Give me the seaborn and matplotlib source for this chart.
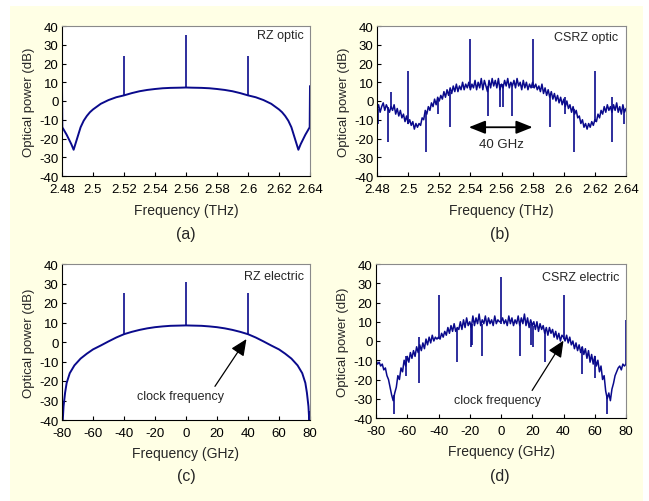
import numpy as np
import seaborn as sns
import matplotlib.pyplot as plt

# ---- panel (a): RZ optic, smooth spectrum ----
freq_a = [2.4800, 2.4802, 2.4830, 2.4860, 2.4875, 2.4890, 2.4905, 2.4920, 2.4940,
          2.4960, 2.4980, 2.5000, 2.5050, 2.5100, 2.5150, 2.5200, 2.5250, 2.5300,
          2.5350, 2.5400, 2.5450, 2.5500, 2.5560, 2.5600, 2.5640, 2.5700, 2.5750,
          2.5800, 2.5850, 2.5900, 2.5950, 2.6000, 2.6050, 2.6100, 2.6150, 2.6200,
          2.6220, 2.6240, 2.6260, 2.6280, 2.6295, 2.6310, 2.6325, 2.6340, 2.6370,
          2.6398, 2.6400]
pow_a = [8, -14, -18, -23, -26, -22, -18, -14, -10.5,
         -8, -6, -4.5, -1.5, 0.5, 2, 3, 4.2, 5.2,
         5.9, 6.4, 6.8, 7, 7.1, 7.2, 7.1, 7, 6.8,
         6.4, 5.9, 5.2, 4.2, 3, 2, 0.5, -1.5, -4.5,
         -6, -8, -10.5, -14, -18, -22, -26, -23, -18,
         -14, 8]
spike_f_a = [2.520, 2.560, 2.600]
spike_lo_a = [3, 7, 3]
spike_hi_a = [24, 35, 24]

# ---- panel (b): CSRZ optic, one reading per GHz from 2.480 to 2.640 THz ----
pow_b = [-5, -2, -6, -3, -1, -5, -2, -4, -6, -3,
         -5, -2, -7, -4, -8, -5, -9, -7, -11, -8,
         -12, -10, -13, -11, -15, -12, -14, -12, -13, -9,
         -10, -5, -7, -3, -5, -1, -3, 1, -2, 2,
         0, 3, 1, 5, 2, 6, 3, 7, 4, 8,
         5, 9, 5, 8, 6, 10, 6, 9, 7, 10,
         6, 9, 7, 11, 6, 10, 7, 12, 6, 11,
         8, 5, 11, 7, 12, 8, 11, 7, 12, 6,
         9,
         7, 11, 8, 12, 7, 10, 8, 11, 7, 12,
         8, 10, 6, 11, 7, 10, 6, 9, 7, 10,
         7, 9, 6, 8, 5, 9, 4, 7, 3, 6,
         2, 5, 1, 4, 0, 3, -1, 2, -2, 1,
         -3, 0, -4, -2, -6, -3, -7, -5, -9, -8,
         -12, -10, -14, -12, -15, -12, -14, -11, -13, -10,
         -11, -7, -9, -5, -7, -3, -6, -2, -5, -3,
         -6, -2, -5, -1, -6, -3, -7, -2, -6, -4]
spike_f_b = [2.4805, 2.4873, 2.4890, 2.5000, 2.5113, 2.5195, 2.5270, 2.5400, 2.5515,
             2.5590, 2.5610, 2.5670, 2.5800, 2.5910, 2.6005, 2.6066, 2.6200, 2.6310,
             2.6385]
spike_lo_b = [-12, -22, -3, -12, -27, -7, -14, 7, -8,
              -3, -3, -8, 7, -14, -7, -27, -11, -22,
              -12]
spike_hi_b = [-4, -3, 5, 16, -6, 1, 5, 33, 8,
              9, 9, 9, 33, 3, 2, -4, 16, 2,
              -4]

# ---- panel (c): RZ electric, smooth ----
freq_c = [-80, -79.5, -79, -78, -77, -75, -72, -68, -64, -60, -55, -50, -45, -40,
          -35, -30, -25, -20, -15, -10, -5, 0, 5, 10, 15, 20, 25, 30, 35, 40,
          45, 50, 55, 60, 64, 68, 72, 75, 77, 78, 79, 79.5, 79.8, 80]
pow_c = [-42, -40, -33, -26, -21, -16, -12, -8.5, -6, -3.8, -1.8, 0.3, 2.3, 4,
         5.2, 6.2, 7, 7.6, 8, 8.3, 8.4, 8.5, 8.4, 8.3, 8, 7.6, 7, 6.2, 5.2, 4,
         2.3, 0.3, -1.8, -3.8, -6, -8.5, -12, -16, -21, -26, -33, -40, -42, -36]
spike_f_c = [-40, 0, 40]
spike_lo_c = [4, 8.5, 4]
spike_hi_c = [25, 31, 25]

# ---- panel (d): CSRZ electric, one reading per GHz from -80 to 80 ----
pow_d = [-10, -12, -11, -13, -12, -15, -14, -18, -20, -24,
         -28, -31, -27, -24, -18, -20, -14, -16, -10, -13,
         -8, -11, -6, -9, -5, -8, -3, -6, -2, -5,
         -1, -4, 1, -2, 2, -1, 3, 0, 2, 1,
         2, 1, 4, 2, 5, 3, 7, 4, 8, 5,
         9, 5, 7, 6, 10, 6, 11, 7, 12, 8,
         10, 7, 13, 8, 12, 9, 14, 8, 11, 9,
         13, 8, 12, 9, 11, 8, 13, 9, 11, 10,
         10,
         12, 9, 11, 8, 13, 9, 12, 8, 11, 9,
         13, 8, 12, 9, 14, 8, 12, 7, 11, 8,
         10, 6, 10, 5, 9, 6, 8, 4, 7, 3,
         7, 4, 6, 2, 5, 1, 4, 0, 3, 2,
         0, 3, -1, 2, -2, 0, -4, -1, -5, -2,
         -6, -3, -7, -4, -9, -5, -11, -7, -12, -8,
         -13, -10, -16, -13, -20, -18, -26, -30, -27, -31,
         -25, -22, -18, -16, -14, -13, -15, -12, -13, -12]
spike_f_d = [-68.5, -60.5, -52.5, -40, -28, -19.5, -18.5, -12, 0,
             12, 19, 20.5, 28, 40, 52, 60, 68, 80]
spike_lo_d = [-38, -18, -22, 1, -11, -3, -2, -8, 9,
              -8, -2, -3, -11, 1, -17, -19, -38, -12]
spike_hi_d = [-28, -8, 2, 24, 6, 9, 9, 9, 33,
              9, 9, 8, 5, 24, -3, -8, -28, 11]

freq_b = np.round(2.480 + 0.001 * np.arange(len(pow_b)), 4)
freq_d = np.arange(len(pow_d)) - 80

line_col = '#0A0A8C'
cream = '#FFFFE5'

sns.set_style('white')
plt.rcParams['font.family'] = ['Liberation Sans', 'DejaVu Sans']
plt.rcParams['axes.unicode_minus'] = False

fig = plt.figure(figsize=(6.49, 5.02), dpi=100)
fig.patch.set_facecolor('white')

# cream panel behind everything
bg = fig.add_axes([10 / 649, 0, 633 / 649, 495 / 502], zorder=-10)
bg.set_facecolor(cream)
bg.set_xticks([])
bg.set_yticks([])
for s in bg.spines.values():
    s.set_visible(False)

boxes = {
    'a': [62 / 649, 1 - 177 / 502, 248 / 649, 150 / 502],
    'b': [377 / 649, 1 - 177 / 502, 249 / 649, 150 / 502],
    'c': [62 / 649, 1 - 421 / 502, 248 / 649, 156 / 502],
    'd': [376 / 649, 1 - 419 / 502, 250 / 649, 154 / 502],
}
axes = {k: fig.add_axes(v) for k, v in boxes.items()}


def style_axis(ax, optic):
    ax.set_facecolor('white')
    for s in ['left', 'bottom']:
        ax.spines[s].set_color('black')
        ax.spines[s].set_linewidth(0.8)
    for s in ['top', 'right']:
        ax.spines[s].set_color('#8A8A8A')
        ax.spines[s].set_linewidth(0.8)
    ax.set_ylim(-40, 40)
    ax.set_yticks(range(-40, 41, 10))
    if optic:
        ax.set_xlim(2.48, 2.64)
        ticks = [2.48, 2.50, 2.52, 2.54, 2.56, 2.58, 2.60, 2.62, 2.64]
        ax.set_xticks(ticks)
        ax.set_xticklabels(['%g' % t for t in ticks])
        ax.set_xlabel('Frequency (THz)', fontsize=10, labelpad=6)
    else:
        ax.set_xlim(-80, 80)
        ax.set_xticks(range(-80, 81, 20))
        ax.set_xlabel('Frequency (GHz)', fontsize=10, labelpad=5)
    ax.set_ylabel('Optical power (dB)', fontsize=9.5, labelpad=3)
    ax.tick_params(axis='both', direction='in', length=3, width=0.8,
                   labelsize=9.5, colors='black')
    ax.tick_params(axis='x', bottom=True, top=False, pad=5)
    ax.tick_params(axis='y', left=True, right=False, pad=2.5)


def draw(ax, x, y, sf, slo, shi, lw):
    sns.lineplot(x=x, y=y, ax=ax, color=line_col, lw=lw, estimator=None, sort=False)
    ax.vlines(sf, slo, shi, color=line_col, lw=1.2)


draw(axes['a'], freq_a, pow_a, spike_f_a, spike_lo_a, spike_hi_a, 1.4)
draw(axes['b'], freq_b, pow_b, spike_f_b, spike_lo_b, spike_hi_b, 1.1)
draw(axes['c'], freq_c, pow_c, spike_f_c, spike_lo_c, spike_hi_c, 1.4)
draw(axes['d'], freq_d, pow_d, spike_f_d, spike_lo_d, spike_hi_d, 1.1)

style_axis(axes['a'], True)
style_axis(axes['b'], True)
style_axis(axes['c'], False)
style_axis(axes['d'], False)

# in-plot labels
axes['a'].text(2.636, 35, 'RZ optic', ha='right', va='center', fontsize=9)
axes['b'].text(2.635, 34, 'CSRZ optic', ha='right', va='center', fontsize=9)
axes['c'].text(76, 34, 'RZ electric', ha='right', va='center', fontsize=9)
axes['d'].text(75.5, 33.5, 'CSRZ electric', ha='right', va='center', fontsize=9)

# 40 GHz double arrow
axes['b'].annotate('', xy=(2.539, -14), xytext=(2.580, -14),
                   arrowprops=dict(arrowstyle='<|-|>,head_length=1.0,head_width=0.4',
                                   color='black', lw=1.3,
                                   mutation_scale=10, shrinkA=0, shrinkB=0))
axes['b'].text(2.560, -23, '40 GHz', ha='center', va='center', fontsize=9.5)

# clock frequency arrows
axes['c'].annotate('clock frequency', xy=(39, 1.5), xytext=(-3.5, -27.5),
                   ha='center', va='center', fontsize=9,
                   arrowprops=dict(arrowstyle='-|>,head_length=1.0,head_width=0.45',
                                   color='black', lw=0.9,
                                   mutation_scale=10, shrinkA=0, shrinkB=0,
                                   relpos=(0.87, 1.0)))
axes['d'].annotate('clock frequency', xy=(40, 0.2), xytext=(-2, -30.5),
                   ha='center', va='center', fontsize=9,
                   arrowprops=dict(arrowstyle='-|>,head_length=1.0,head_width=0.45',
                                   color='black', lw=0.9,
                                   mutation_scale=10, shrinkA=0, shrinkB=0,
                                   relpos=(0.87, 1.0)))

# sub-figure letters
for lab, (px, py) in {'(a)': (186, 235), '(b)': (500, 235),
                      '(c)': (186, 477), '(d)': (500, 477)}.items():
    fig.text(px / 649, 1 - py / 502, lab, ha='center', va='center', fontsize=11.5)

fig.savefig('out.png', dpi=100, facecolor=fig.get_facecolor())
